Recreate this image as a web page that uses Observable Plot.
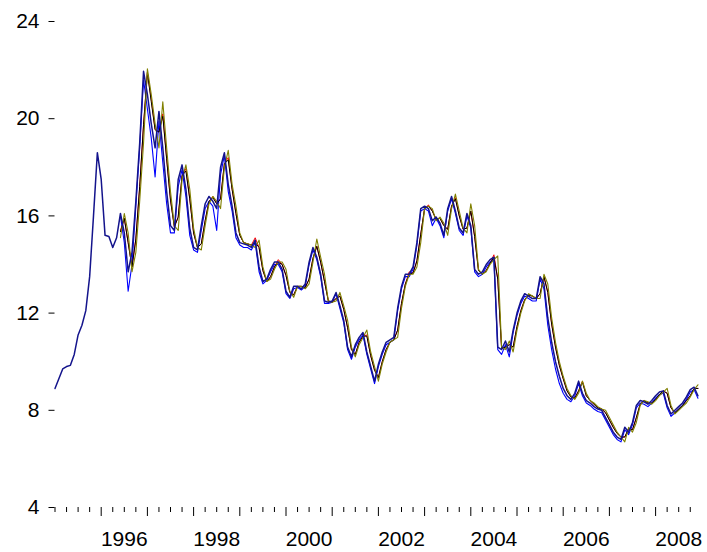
<!DOCTYPE html>
<html>
<head>
<meta charset="utf-8">
<script src="https://cdn.jsdelivr.net/npm/d3@7"></script>
<script src="https://cdn.jsdelivr.net/npm/@observablehq/plot@0.6"></script>
<style>
  html, body { margin: 0; padding: 0; background: #ffffff; }
  #chart { width: 707px; height: 552px; }
</style>
</head>
<body>
<div id="chart"></div>
<script>
// Monthly observations, first value = 1995M01
const startYear = 1995;
const actual = [
  8.9, 9.3, 9.7, 9.8, 9.85, 10.3, 11.1, 11.5, 12.1, 13.5, 16.0, 18.6,
  17.5, 15.2, 15.15, 14.7, 15.1, 16.1, 15.3, 13.7, 14.5, 16.6, 19.0, 21.95,
  21.0, 19.8, 18.8, 20.3, 18.8, 17.0, 15.6, 15.4, 17.5, 18.1, 17.1, 15.5,
  14.7, 14.6, 15.6, 16.5, 16.8, 16.6, 16.3, 18.0, 18.6, 17.3, 16.4, 15.3,
  14.9, 14.85, 14.8, 14.7, 15.0, 13.9, 13.3, 13.4, 13.8, 14.1, 14.1, 13.8,
  12.9, 12.65, 13.1, 13.1, 13.0, 13.2, 14.1, 14.7, 14.3, 13.6, 12.5, 12.45,
  12.5, 12.85, 12.3, 11.7, 10.6, 10.2, 10.7, 11.0, 11.2, 10.4, 9.8, 9.2,
  9.9, 10.4, 10.8, 10.9, 11.0, 12.2, 13.1, 13.6, 13.6, 13.9, 14.9, 16.3,
  16.4, 16.3, 15.8, 15.95, 15.7, 15.2, 16.3, 16.8, 16.2, 15.5, 15.3, 16.1,
  15.6, 13.8, 13.6, 13.7, 14.0, 14.2, 14.3, 10.6, 10.5, 10.85, 10.4, 11.3,
  12.0, 12.5, 12.8, 12.7, 12.6, 12.6, 13.5, 13.2, 11.8, 10.8, 10.0, 9.4,
  8.9, 8.6, 8.45, 8.7, 9.2, 8.7, 8.4, 8.3, 8.15, 8.05, 8.0, 7.7,
  7.4, 7.1, 6.9, 6.8, 7.3, 7.1, 7.5, 8.2, 8.4, 8.35, 8.25, 8.4,
  8.6, 8.75, 8.8, 8.2, 7.85, 8.0, 8.15, 8.3, 8.55, 8.85, 8.95, 8.6
];

// Forecast series, first value = 1996M06 (17 months after start)
const forecastStart = 17;
const fcBlue = [
  16.0, 14.9, 12.9, 14.0, 16.4, 18.8, 21.6,
  20.4, 19.2, 17.6, 19.9, 18.2, 16.5, 15.3, 15.3, 17.2, 17.9, 16.8, 15.2,
  14.6, 14.5, 15.4, 16.3, 16.6, 16.4, 15.4, 17.7, 18.5, 17.0, 16.2, 15.1,
  14.8, 14.7, 14.7, 14.6, 14.9, 13.7, 13.2, 13.35, 13.7, 14.0, 14.0, 13.7,
  12.8, 12.6, 13.0, 13.05, 12.95, 13.1, 14.0, 14.6, 14.2, 13.5, 12.4, 12.4,
  12.45, 12.8, 12.2, 11.6, 10.5, 10.1, 10.6, 10.9, 11.1, 10.3, 9.7, 9.1,
  9.8, 10.3, 10.7, 10.8, 10.9, 12.1, 13.0, 13.5, 13.5, 13.8, 14.8, 16.2,
  16.3, 16.2, 15.6, 15.9, 15.6, 15.1, 16.2, 16.7, 16.1, 15.4, 15.2, 16.0,
  15.5, 13.7, 13.5, 13.6, 13.9, 14.1, 14.2, 10.5, 10.3, 10.7, 10.2, 11.2,
  11.9, 12.4, 12.7, 12.6, 12.5, 12.5, 13.4, 13.0, 11.5, 10.5, 9.7, 9.1,
  8.7, 8.45, 8.35, 8.6, 9.1, 8.6, 8.3, 8.2, 8.05, 7.95, 7.9, 7.6,
  7.3, 7.0, 6.8, 6.7, 7.2, 7.0, 7.4, 8.1, 8.3, 8.25, 8.15, 8.3,
  8.5, 8.65, 8.7, 8.1, 7.75, 7.9, 8.05, 8.2, 8.45, 8.75, 8.85, 8.5
];
const fcRed = [
  15.4, 15.9, 14.9, 13.9, 15.05, 17.2, 19.75,
  21.9, 20.8, 19.55, 19.45, 20.2, 18.35, 16.65, 15.55, 15.95, 17.65, 17.95, 16.7,
  15.3, 14.7, 14.85, 15.8, 16.6, 16.8, 16.5, 16.7, 18.15, 18.4, 17.1, 16.1,
  15.2, 14.9, 14.85, 14.8, 15.1, 14.7, 13.75, 13.3, 13.5, 13.9, 14.2, 14.0,
  13.55, 12.85, 12.75, 13.1, 13.1, 13.05, 13.4, 14.25, 14.75, 14.1, 13.3, 12.5,
  12.45, 12.6, 12.7, 12.15, 11.4, 10.5, 10.3, 10.8, 11.05, 11.1, 10.25, 9.65,
  9.35, 10.0, 10.5, 10.8, 10.9, 11.3, 12.4, 13.2, 13.7, 13.65, 14.15, 15.25,
  16.3, 16.45, 16.2, 15.85, 15.9, 15.6, 15.45, 16.4, 16.75, 16.0, 15.45, 15.5,
  16.2, 15.15, 13.75, 13.6, 13.75, 14.05, 14.4, 13.4, 10.55, 10.6, 10.7, 10.6,
  11.45, 12.1, 12.55, 12.75, 12.7, 12.6, 12.8, 13.5, 12.85, 11.55, 10.6, 9.85,
  9.3, 8.8, 8.55, 8.5, 8.8, 9.2, 8.6, 8.4, 8.25, 8.1, 8.05, 7.9,
  7.6, 7.3, 7.05, 6.9, 6.9, 7.25, 7.2, 7.7, 8.25, 8.4, 8.3, 8.3,
  8.45, 8.65, 8.8, 8.7, 8.1, 7.9, 8.05, 8.2, 8.4, 8.6, 8.9, 8.9
];
const fcBlack = [
  15.35, 15.9, 14.9, 13.9, 15.05, 17.2, 19.75,
  21.9, 20.7, 19.55, 19.45, 20.1, 18.35, 16.65, 15.55, 15.95, 17.65, 17.85, 16.7,
  15.3, 14.7, 14.85, 15.8, 16.6, 16.75, 16.5, 16.7, 18.15, 18.3, 17.1, 16.1,
  15.2, 14.9, 14.85, 14.8, 14.9, 14.7, 13.75, 13.3, 13.5, 13.9, 14.1, 14.0,
  13.55, 12.85, 12.75, 13.1, 13.1, 13.05, 13.4, 14.25, 14.75, 14.1, 13.3, 12.5,
  12.45, 12.6, 12.7, 12.15, 11.4, 10.5, 10.3, 10.8, 11.05, 11.05, 10.25, 9.65,
  9.35, 10.0, 10.5, 10.8, 10.9, 11.3, 12.4, 13.2, 13.6, 13.65, 14.15, 15.25,
  16.3, 16.4, 16.2, 15.85, 15.9, 15.6, 15.45, 16.4, 16.7, 16.0, 15.45, 15.5,
  16.2, 15.15, 13.75, 13.6, 13.75, 14.05, 14.3, 13.4, 10.55, 10.6, 10.7, 10.6,
  11.45, 12.1, 12.55, 12.75, 12.7, 12.6, 12.8, 13.5, 12.85, 11.55, 10.6, 9.85,
  9.3, 8.8, 8.55, 8.5, 8.8, 9.15, 8.6, 8.4, 8.25, 8.1, 8.05, 7.9,
  7.6, 7.3, 7.05, 6.9, 6.9, 7.25, 7.2, 7.7, 8.25, 8.4, 8.3, 8.3,
  8.45, 8.65, 8.8, 8.7, 8.1, 7.9, 8.05, 8.2, 8.4, 8.6, 8.9, 8.9
];
const fcOlive = [
  15.1, 16.1, 15.3, 13.7, 14.5, 16.6, 19.0,
  22.05, 21.0, 19.8, 18.8, 20.7, 18.8, 17.0, 15.6, 15.4, 17.5, 18.1, 17.1,
  15.5, 14.7, 14.6, 15.6, 16.5, 16.8, 16.6, 16.3, 18.0, 18.7, 17.3, 16.4,
  15.3, 14.9, 14.85, 14.8, 14.7, 15.0, 13.9, 13.3, 13.4, 13.8, 14.1, 14.1,
  13.8, 12.9, 12.65, 13.1, 13.1, 13.0, 13.2, 14.1, 15.05, 14.3, 13.6, 12.5,
  12.45, 12.5, 12.85, 12.3, 11.7, 10.6, 10.2, 10.7, 11.0, 11.3, 10.4, 9.8,
  9.2, 9.9, 10.4, 10.8, 10.9, 11.0, 12.2, 13.1, 13.6, 13.6, 13.9, 14.9,
  16.3, 16.4, 16.3, 15.8, 15.95, 15.7, 15.2, 16.3, 16.9, 16.2, 15.5, 15.3,
  16.5, 15.6, 13.8, 13.6, 13.7, 14.0, 14.2, 14.35, 10.6, 10.5, 10.85, 10.4,
  11.3, 12.0, 12.5, 12.8, 12.7, 12.6, 12.6, 13.6, 13.2, 11.8, 10.8, 10.0,
  9.4, 8.9, 8.6, 8.45, 8.7, 9.2, 8.7, 8.4, 8.3, 8.15, 8.05, 8.0,
  7.7, 7.4, 7.1, 6.9, 6.7, 7.3, 7.1, 7.5, 8.2, 8.4, 8.35, 8.25,
  8.4, 8.6, 8.75, 8.9, 8.2, 7.85, 8.0, 8.15, 8.3, 8.55, 8.85, 9.05
];

const yTickValues = [4, 8, 12, 16, 20, 24];
const xLabelYears = [1996, 1998, 2000, 2002, 2004, 2006, 2008];

function toRows(values, offset, series) {
  return values.map((v, k) => ({t: startYear + (offset + k) / 12, v, series}));
}

// drawing order: first = bottom
const layers = [
  {name: "red", values: fcRed, offset: forecastStart, color: "#ff0000", w: 1},
  {name: "blue", values: fcBlue, offset: forecastStart, color: "#0000ff", w: 1.1},
  {name: "black", values: fcBlack, offset: forecastStart, color: "#000000", w: 1},
  {name: "olive", values: fcOlive, offset: forecastStart, color: "#808000", w: 1.1},
  {name: "actual", values: actual, offset: 0, color: "#14148c", w: 1.5}
];

const quarterTicks = d3.range(1995, 2009, 0.25).filter(d => !(d > 1995 && Number.isInteger(d)));
const yearTicks = d3.range(1996, 2009, 1);

const lineMarks = layers.map(l =>
  Plot.line(toRows(l.values, l.offset, l.name), {x: "t", y: "v", stroke: l.color, strokeWidth: l.w})
);

const chart = Plot.plot({
  width: 707,
  height: 552,
  marginLeft: 54.5,
  marginRight: 5.7,
  marginTop: 21,
  marginBottom: 45,
  style: {fontFamily: "'Liberation Sans', Arial, sans-serif", fontSize: "21px", background: "#ffffff", color: "#000"},
  x: {domain: [1995, 2009]},
  y: {domain: [4, 24]},
  marks: [
    Plot.axisY({ticks: yTickValues, tickSize: 6, tickPadding: 9.5, tickFormat: d => String(d), label: null, fontSize: 21}),
    Plot.axisX({ticks: quarterTicks, tickSize: 5, tickFormat: () => "", label: null}),
    Plot.axisX({ticks: yearTicks, tickSize: 9, tickFormat: () => "", label: null}),
    Plot.axisX({ticks: xLabelYears.map(y => y + 0.5), tickSize: 0, tickPadding: 24, tickFormat: d => String(Math.floor(d)), label: null, fontSize: 21}),
    ...lineMarks
  ]
});
document.getElementById("chart").appendChild(chart);
</script>
</body>
</html>
